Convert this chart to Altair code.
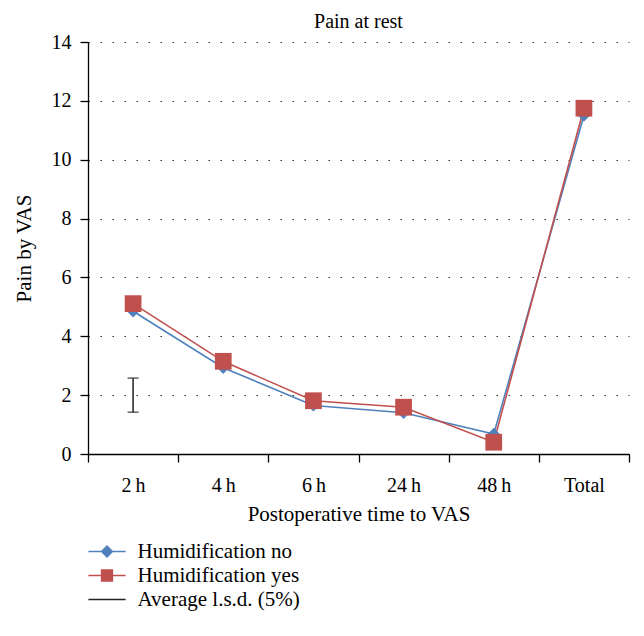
import altair as alt
import pandas as pd

categories = ["2\u2009h", "4\u2009h", "6\u2009h", "24\u2009h", "48\u2009h", "Total"]
humid_no = [4.85, 2.93, 1.65, 1.40, 0.68, 11.50]
humid_yes = [5.11, 3.15, 1.81, 1.59, 0.40, 11.75]
lsd_category = "2\u2009h"
lsd_low = 1.42
lsd_high = 2.58
legend_labels = ["Humidification no", "Humidification yes", "Average l.s.d. (5%)"]
y_ticks = [0, 2, 4, 6, 8, 10, 12, 14]

BLUE = "#4F81BD"
RED = "#C0504D"
BLACK = "#222222"
FONT = "Liberation Serif"

df = pd.DataFrame({
    "cat": categories * 2,
    "value": humid_no + humid_yes,
    "series": ["Humidification no"] * len(categories) + ["Humidification yes"] * len(categories),
})
df_no = df[df.series == "Humidification no"]
df_yes = df[df.series == "Humidification yes"]

x_enc = alt.X(
    "cat:N",
    sort=categories,
    scale=alt.Scale(type="band", domain=categories, paddingInner=0, paddingOuter=0),
    axis=alt.Axis(
        title="Postoperative time to VAS",
        tickBand="extent",
        labelAngle=0,
        tickSize=8,
        tickColor="black",
        tickWidth=1.3,
        domainColor="black",
        domainWidth=1.3,
        labelFont=FONT,
        labelFontSize=20,
        labelColor="black",
        labelPadding=13,
        titleFont=FONT,
        titleFontSize=21,
        titleFontWeight="normal",
        titleColor="black",
        titlePadding=8,
        grid=False,
    ),
)
y_scale = alt.Scale(domain=[0, 14], nice=False)
y_axis = alt.Axis(
    title="Pain by VAS",
    values=y_ticks,
    tickSize=8,
    tickColor="black",
    tickWidth=1.3,
    domainColor="black",
    domainWidth=1.3,
    labelFont=FONT,
    labelFontSize=20,
    labelColor="black",
    labelPadding=9,
    titleFont=FONT,
    titleFontSize=21,
    titleFontWeight="normal",
    titleColor="black",
    titlePadding=17,
    grid=True,
    gridColor="#333333",
    gridDash=[1.5, 10.5],
    gridWidth=1.2,
)

line_no = alt.Chart(df_no).mark_line(color=BLUE, strokeWidth=1.6).encode(
    x=x_enc, y=alt.Y("value:Q", scale=y_scale, axis=y_axis)
)
pts_no = alt.Chart(df_no).mark_point(shape="diamond", filled=True, color=BLUE, size=150, opacity=1).encode(
    x=alt.X("cat:N", sort=categories), y=alt.Y("value:Q")
)
line_yes = alt.Chart(df_yes).mark_line(color=RED, strokeWidth=1.6).encode(
    x=alt.X("cat:N", sort=categories), y=alt.Y("value:Q")
)
pts_yes = alt.Chart(df_yes).mark_point(shape="square", filled=True, color=RED, size=280, opacity=1).encode(
    x=alt.X("cat:N", sort=categories), y=alt.Y("value:Q")
)

lsd_df = pd.DataFrame({"cat": [lsd_category], "low": [lsd_low], "high": [lsd_high]})
lsd_rule = alt.Chart(lsd_df).mark_rule(color=BLACK, strokeWidth=1.5).encode(
    x=alt.X("cat:N", sort=categories), y="low:Q", y2="high:Q"
)
caps_df = pd.DataFrame({"cat": [lsd_category, lsd_category], "v": [lsd_low, lsd_high]})
lsd_caps = alt.Chart(caps_df).mark_tick(color=BLACK, size=11, thickness=1.5, orient="horizontal").encode(
    x=alt.X("cat:N", sort=categories), y="v:Q"
)

# legend layer (points placed out of the visible domain, clipped)
diamond_path = "M-3.1,0 L3.1,0 M0,-0.9 L0.9,0 L0,0.9 L-0.9,0 Z"
square_path = "M-3.1,0 L3.1,0 M-0.9,-0.9 L0.9,-0.9 L0.9,0.9 L-0.9,0.9 Z"
line_path = "M-3.1,0 L3.1,0"
leg_df = pd.DataFrame({"label": legend_labels, "cat": [categories[0]] * 3, "v": [-10, -10, -10]})
leg_scale_c = alt.Scale(domain=legend_labels, range=[BLUE, RED, BLACK])
leg_scale_s = alt.Scale(domain=legend_labels, range=[diamond_path, square_path, line_path])
legend = alt.Legend(
    title=None,
    orient="none",
    legendX=8.5,
    legendY=499,
    symbolSize=144,
    symbolStrokeWidth=1.5,
    symbolOpacity=1,
    labelFont=FONT,
    labelFontSize=21,
    labelColor="black",
    labelOffset=20,
    rowPadding=2,
    padding=0,
    labelLimit=400,
)
leg_layer = alt.Chart(leg_df).mark_point(filled=True, clip=True, size=144, opacity=1).encode(
    x=alt.X("cat:N", sort=categories),
    y=alt.Y("v:Q"),
    fill=alt.Fill("label:N", scale=leg_scale_c, legend=legend, sort=legend_labels),
    stroke=alt.Stroke("label:N", scale=leg_scale_c, legend=legend, sort=legend_labels),
    shape=alt.Shape("label:N", scale=leg_scale_s, legend=legend, sort=legend_labels),
)

chart = alt.layer(
    line_no, line_yes, pts_no, pts_yes, lsd_rule, lsd_caps, leg_layer
).properties(
    width=541,
    height=412,
    title=alt.TitleParams("Pain at rest", font=FONT, fontSize=20, fontWeight="normal", color="black",
                          anchor="middle", offset=7, dy=7),
    autosize=alt.AutoSizeParams(type="none"),
    padding={"left": 80, "top": 34, "right": 7, "bottom": 170},
).configure_view(stroke=None).resolve_scale(fill="shared", stroke="shared", shape="shared")

chart.save("out.html", embed_options={"renderer": "svg", "actions": False})
